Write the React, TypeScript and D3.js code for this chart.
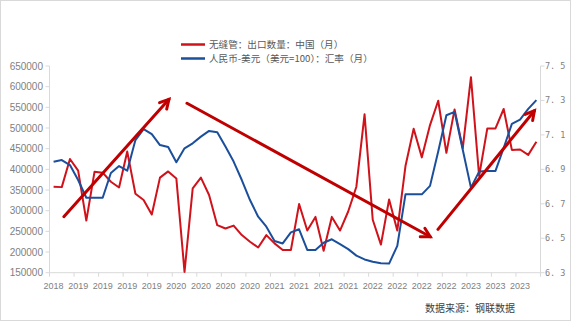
import React from "react";
import * as d3 from "d3";

const months: string[] = [
  "2018-12",
  "2019-01","2019-02","2019-03","2019-04","2019-05","2019-06","2019-07","2019-08","2019-09","2019-10","2019-11","2019-12",
  "2020-01","2020-02","2020-03","2020-04","2020-05","2020-06","2020-07","2020-08","2020-09","2020-10","2020-11","2020-12",
  "2021-01","2021-02","2021-03","2021-04","2021-05","2021-06","2021-07","2021-08","2021-09","2021-10","2021-11","2021-12",
  "2022-01","2022-02","2022-03","2022-04","2022-05","2022-06","2022-07","2022-08","2022-09","2022-10","2022-11","2022-12",
  "2023-01","2023-02","2023-03","2023-04","2023-05","2023-06","2023-07","2023-08","2023-09","2023-10","2023-11",
];

const exportVolume: number[] = [
  358000, 357000, 425000, 397000, 276000, 394000, 392000, 370000, 356000, 443000,
  341000, 326000, 291000, 380000, 395000, 378000, 152000, 354000, 380000, 338000,
  265000, 257000, 264000, 241000, 225000, 211000, 241000, 221000, 205000, 205000,
  316000, 252000, 285000, 203000, 285000, 252000, 298000, 358000, 533000, 278000,
  218000, 327000, 252000, 408000, 498000, 429000, 507000, 566000, 440000, 545000,
  451000, 623000, 384000, 499000, 499000, 546000, 447000, 448000, 435000, 467000,
];

const usdCny: number[] = [
  6.944, 6.954, 6.925, 6.838, 6.735, 6.735, 6.735, 6.879, 6.919, 6.892,
  7.07, 7.134, 7.105, 7.041, 7.03, 6.941, 7.022, 7.051, 7.09, 7.123,
  7.115, 7.032, 6.945, 6.838, 6.722, 6.625, 6.567, 6.484, 6.47, 6.534,
  6.552, 6.432, 6.432, 6.474, 6.494, 6.466, 6.437, 6.399, 6.377, 6.364,
  6.355, 6.353, 6.456, 6.755, 6.755, 6.755, 6.804, 7.004, 7.214, 7.234,
  7.014, 6.794, 6.887, 6.891, 6.891, 7.024, 7.164, 7.189, 7.251, 7.302,
];

const leftTicks: number[] = [150000, 200000, 250000, 300000, 350000, 400000, 450000, 500000, 550000, 600000, 650000];
const rightTicks: number[] = [6.3, 6.5, 6.7, 6.9, 7.1, 7.3, 7.5];
const rightTickLabels: string[] = ["6. 3", "6. 5", "6. 7", "6. 9", "7. 1", "7. 3", "7. 5"];

const seriesNames: string[] = ["无缝管：出口数量：中国（月）", "人民币-美元（美元=100）：汇率（月）"];
const sourceText = "数据来源：钢联数据";

// annotation arrows in data space: [categoryIndex, leftAxisValue] start -> end
const arrowStarts: [number, number][] = [[1.25, 285500], [16.3, 559800], [46.97, 254900]];
const arrowEnds: [number, number][] = [[14.1, 569400], [46.03, 237100], [58.76, 541900]];

const RED = "#d0121b";
const BLUE = "#1b4f9c";
const ARROW = "#c00000";
const AXIS = "#d9d9d9";
const TEXT = "#7f7f7f";

export default function App() {
  const W = 571, H = 321;
  const left = 49.5, right = 540.5, top = 66, bottom = 272.7;

  const x = d3.scaleBand<string>().domain(months).range([left, right]).paddingInner(0).paddingOuter(0);
  const bw = x.bandwidth();
  const cx = (m: string) => (x(m) as number) + bw / 2;
  const xIdx = d3.scaleLinear().domain([-0.5, months.length - 0.5]).range([left, right]);
  const yL = d3.scaleLinear().domain([150000, 650000]).range([bottom, top]);
  const yR = d3.scaleLinear().domain([6.3, 7.5]).range([bottom, top]);

  const redLine = d3.line<number>().x((_, i) => cx(months[i])).y((d) => yL(d))(exportVolume) as string;
  const blueLine = d3.line<number>().x((_, i) => cx(months[i])).y((d) => yR(d))(usdCny) as string;

  const labelIdx = months.map((_, i) => i).filter((i) => i % 3 === 0);
  const tickIdx = [...labelIdx, months.length];

  const arrows = arrowStarts.map((s, i) => {
    const e = arrowEnds[i];
    const x1 = xIdx(s[0]), y1 = yL(s[1]), x2 = xIdx(e[0]), y2 = yL(e[1]);
    const ang = Math.atan2(y2 - y1, x2 - x1);
    const L = 10, a = 0.5;
    const w1 = [x2 - L * Math.cos(ang - a), y2 - L * Math.sin(ang - a)];
    const w2 = [x2 - L * Math.cos(ang + a), y2 - L * Math.sin(ang + a)];
    return { x1, y1, x2, y2, w1, w2 };
  });

  const numFont = "'Liberation Sans', Arial, sans-serif";
  const cjkFont = "'Noto Sans CJK SC', sans-serif";

  return (
    <div style={{ position: "absolute", left: 0, top: 0 }}>
      <svg width={W} height={H} style={{ display: "block", background: "#fff" }}>
        <rect x={0.5} y={0.5} width={W - 1} height={H - 1} fill="#fff" stroke={AXIS} />

        {/* legend */}
        <g>
          <line x1={181} x2={205} y1={44.5} y2={44.5} stroke={RED} strokeWidth={2.5} />
          <line x1={181} x2={205} y1={58.5} y2={58.5} stroke={BLUE} strokeWidth={2.5} />
          <text x={209} y={44.5} dy="0.35em" fontSize={9.6} fill="#595959" fontFamily={cjkFont}>{seriesNames[0]}</text>
          <text x={209} y={58.5} dy="0.35em" fontSize={9.6} fill="#595959" fontFamily={cjkFont}>{seriesNames[1]}</text>
        </g>

        {/* left axis */}
        <line x1={left} x2={left} y1={top} y2={bottom} stroke={AXIS} />
        {leftTicks.map((t) => (
          <g key={t}>
            <line x1={left - 4} x2={left} y1={yL(t)} y2={yL(t)} stroke={AXIS} />
            <text x={43} y={yL(t)} dy="0.35em" textAnchor="end" fontSize={10} fill={TEXT} fontFamily={numFont}>{t}</text>
          </g>
        ))}

        {/* right axis */}
        <line x1={right} x2={right} y1={top} y2={bottom} stroke={AXIS} />
        {rightTicks.map((t, i) => (
          <g key={t}>
            <line x1={right} x2={right + 4} y1={yR(t)} y2={yR(t)} stroke={AXIS} />
            <text x={545} y={yR(t)} dy="0.35em" fontSize={8.5} fill={TEXT} fontFamily="'DejaVu Sans Mono', monospace">{rightTickLabels[i]}</text>
          </g>
        ))}

        {/* bottom axis */}
        <line x1={left} x2={right} y1={bottom} y2={bottom} stroke={AXIS} />
        {tickIdx.map((i) => (
          <line key={i} x1={xIdx(i - 0.5)} x2={xIdx(i - 0.5)} y1={bottom} y2={bottom + 4} stroke={AXIS} />
        ))}
        {labelIdx.map((i) => (
          <text key={i} x={cx(months[i])} y={286} dy="0.35em" textAnchor="middle" fontSize={9} fill={TEXT} fontFamily={numFont}>
            {months[i].slice(0, 4)}
          </text>
        ))}

        {/* series */}
        <path d={redLine} fill="none" stroke={RED} strokeWidth={2} strokeLinejoin="round" />
        <path d={blueLine} fill="none" stroke={BLUE} strokeWidth={2} strokeLinejoin="round" />

        {/* arrows */}
        {arrows.map((a, i) => (
          <g key={i} stroke={ARROW} strokeWidth={3} fill="none" strokeLinecap="round" strokeLinejoin="miter">
            <line x1={a.x1} y1={a.y1} x2={a.x2} y2={a.y2} />
            <polyline points={`${a.w1[0]},${a.w1[1]} ${a.x2},${a.y2} ${a.w2[0]},${a.w2[1]}`} />
          </g>
        ))}

        <text x={425} y={308} dy="0.35em" fontSize={10} fill="#404040" fontFamily={cjkFont}>{sourceText}</text>
      </svg>
    </div>
  );
}
